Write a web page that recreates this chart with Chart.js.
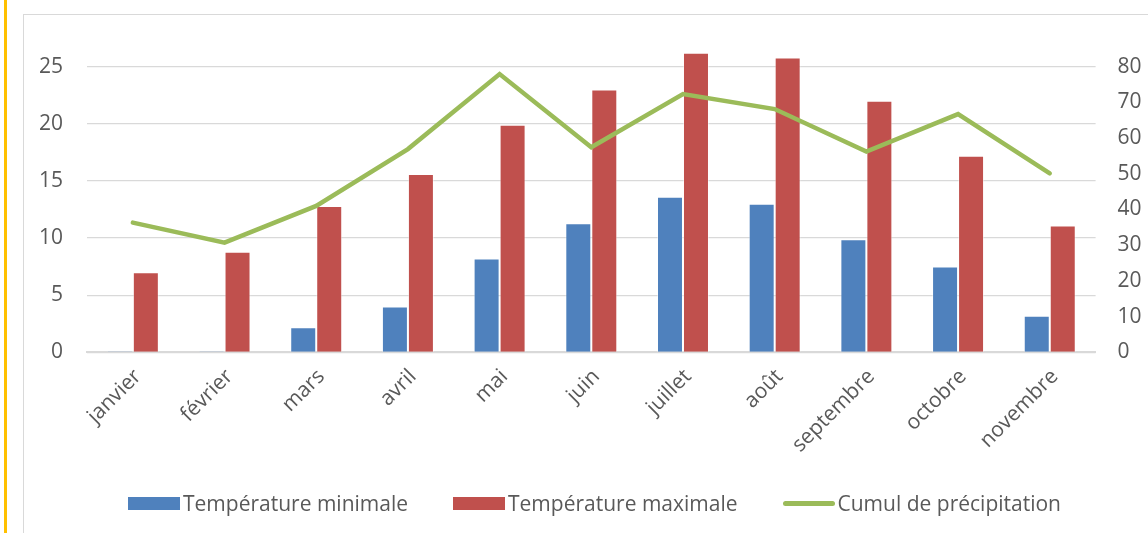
<!DOCTYPE html>
<html lang="fr">
<head>
<meta charset="utf-8">
<script src="https://cdn.jsdelivr.net/npm/chart.js@4.4.1/dist/chart.umd.min.js"></script>
<style>
  html, body { margin: 0; padding: 0; background: #fff; }
  body { width: 1148px; height: 533px; position: relative; overflow: hidden; font-family: "Open Sans", sans-serif; }
  #accent { position: absolute; left: 4px; top: 0; width: 3px; height: 533px; background: #FFC000; }
  #frame { position: absolute; left: 23px; top: 14px; width: 1200px; height: 600px;
           border-left: 1px solid #D9D9D9; border-top: 1px solid #D9D9D9; }
  #wrap { position: absolute; left: 0; top: 0; width: 1148px; height: 533px; }
  #legend { position: absolute; left: 128px; top: 489px; height: 28px; display: flex; align-items: center;
            font-size: 21px; color: #595959; white-space: nowrap; }
  .item { display: flex; align-items: center; margin-right: 45px; }
  .swatch { width: 52px; height: 13px; margin-right: 3px; }
  .swatch.line { height: 5px; border-radius: 3px; }
</style>
</head>
<body>
<div id="accent"></div>
<div id="frame"></div>
<div id="wrap"><canvas id="chart" width="1148" height="533"></canvas></div>
<div id="legend"></div>
<script>
// Monthly climate data
const months = ['janvier', 'février', 'mars', 'avril', 'mai', 'juin', 'juillet', 'août', 'septembre', 'octobre', 'novembre'];
const tempMin = [0.1, 0.1, 2.2, 4.0, 8.2, 11.3, 13.6, 13.0, 9.9, 7.5, 3.2];
const tempMax = [7.0, 8.8, 12.8, 15.6, 19.9, 23.0, 26.2, 25.8, 22.0, 17.2, 11.1];
const precip = [36.3, 30.7, 41.0, 56.9, 77.9, 57.4, 72.3, 68.1, 56.2, 66.7, 50.1];

// Axis tick labels
const tempTicks = [0, 5, 10, 15, 20, 25];
const precipTicks = [0, 10, 20, 30, 40, 50, 60, 70, 80];

const TEXT = '#595959';
const GRID = '#D9D9D9';
const FONT = { family: '"Open Sans", sans-serif', size: 21 };

Chart.defaults.font.family = FONT.family;
Chart.defaults.color = TEXT;

// Nudge the rotated month labels slightly to the right of the category centre
function shiftLabels(scale) {
  if (scale._shifted) return;
  scale._shifted = true;
  const base = scale.drawLabels;
  scale.drawLabels = function (area) {
    const ctx = this.ctx;
    ctx.save();
    ctx.translate(5, 0);
    base.call(this, area);
    ctx.restore();
  };
}

const chart = new Chart(document.getElementById('chart'), {
  data: {
    labels: months,
    datasets: [
      {
        type: 'bar', label: 'Température minimale', data: tempMin, yAxisID: 'y',
        backgroundColor: '#4F81BD', borderColor: 'rgba(255,255,255,0.45)', borderWidth: 1,
        categoryPercentage: 0.567, barPercentage: 1, order: 1
      },
      {
        type: 'bar', label: 'Température maximale', data: tempMax, yAxisID: 'y',
        backgroundColor: '#C0504D', borderColor: 'rgba(255,255,255,0.45)', borderWidth: 1,
        categoryPercentage: 0.567, barPercentage: 1, order: 1
      },
      {
        type: 'line', label: 'Cumul de précipitation', data: precip, yAxisID: 'y1',
        borderColor: '#9BBB59', backgroundColor: '#9BBB59', borderWidth: 4.5,
        pointRadius: 0, tension: 0, borderCapStyle: 'round', fill: false, order: 0
      }
    ]
  },
  options: {
    responsive: false,
    animation: false,
    devicePixelRatio: 1,
    layout: { padding: { top: 38, left: 0, right: 0, bottom: 0 } },
    plugins: { legend: { display: false }, tooltip: { enabled: false } },
    scales: {
      x: {
        grid: { display: false },
        border: { display: true, color: GRID, width: 2 },
        ticks: { font: FONT, color: TEXT, minRotation: 45, maxRotation: 45, padding: 4, autoSkip: false },
        afterFit: s => { s.height = 180.7; shiftLabels(s); }
      },
      y: {
        position: 'left', min: 0, max: 27.5,
        grid: { color: GRID, lineWidth: 1.3, drawTicks: false },
        border: { display: false },
        ticks: { font: FONT, color: TEXT, padding: 24 },
        afterBuildTicks: s => { s.ticks = tempTicks.map(v => ({ value: v })); },
        afterFit: s => { s.width = 87; }
      },
      y1: {
        position: 'right', min: 0, max: 88,
        grid: { display: false, drawTicks: false },
        border: { display: false },
        ticks: { font: FONT, color: TEXT, padding: 22 },
        afterBuildTicks: s => { s.ticks = precipTicks.map(v => ({ value: v })); },
        afterFit: s => { s.width = 52.4; }
      }
    }
  }
});

// Legend built from the chart's datasets
const legend = document.getElementById('legend');
chart.data.datasets.forEach(ds => {
  const item = document.createElement('div');
  item.className = 'item';
  const sw = document.createElement('span');
  sw.className = 'swatch' + (ds.type === 'line' ? ' line' : '');
  sw.style.background = ds.type === 'line' ? ds.borderColor : ds.backgroundColor;
  const txt = document.createElement('span');
  txt.textContent = ds.label;
  item.appendChild(sw);
  item.appendChild(txt);
  legend.appendChild(item);
});
</script>
</body>
</html>
